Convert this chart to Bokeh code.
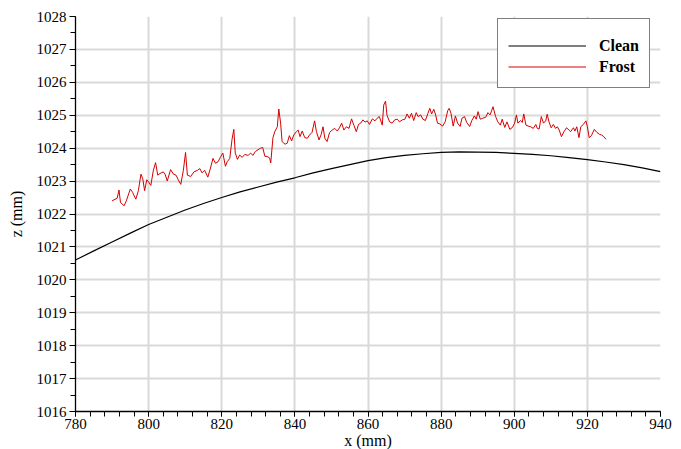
from bokeh.plotting import figure
from bokeh.models import SingleIntervalTicker, Range1d, Legend, LegendItem
from bokeh.embed import file_html
from bokeh.resources import INLINE

# Clean surface profile (x in mm, z in mm)
clean_x = [780, 785, 790, 795, 800, 805, 810, 815, 820, 825, 830, 835, 840, 845, 850, 855, 860,
           865, 870, 875, 880, 885, 890, 895, 900, 905, 910, 915, 920, 925, 930, 935, 940]
clean_z = [1020.6, 1020.88, 1021.15, 1021.42, 1021.68, 1021.9, 1022.12, 1022.32, 1022.5, 1022.67,
           1022.82, 1022.97, 1023.1, 1023.25, 1023.38, 1023.5, 1023.62, 1023.71, 1023.78, 1023.83,
           1023.87, 1023.89, 1023.88, 1023.87, 1023.84, 1023.81, 1023.77, 1023.71, 1023.65, 1023.58,
           1023.5, 1023.4, 1023.29]

# Frost surface profile
frost_x = [790.0, 791.4, 791.9, 792.3, 793.3, 793.9, 795.0, 795.6, 796.5, 797.2, 797.9, 798.4,
           798.9, 799.5, 800.0, 800.6, 801.3, 801.9, 802.5, 803.1, 804.0, 804.5, 805.1, 806.0,
           806.8, 807.5, 808.1, 808.8, 809.5, 810.1, 810.6, 811.5, 812.4, 813.4, 814.0, 814.6,
           815.3, 816.2, 817.0, 817.6, 818.3, 819.0, 819.7, 820.3, 821.0, 821.5, 822.2, 822.8,
           823.3, 823.7, 824.3, 824.9, 825.6, 826.3,
           827.2, 827.9, 828.5, 829.2, 829.9, 830.6, 831.2, 831.8, 832.4, 833.1, 833.4, 834.0,
           834.5, 835.2, 835.6, 836.1, 836.5, 837.3, 837.9, 838.5, 839.1, 839.7, 840.4, 840.9,
           841.4, 842.0, 842.7, 843.4, 844.0, 844.7, 845.4, 845.9, 846.6, 847.2, 847.7, 848.2,
           848.8, 849.5, 850.2, 850.9, 851.6, 852.2, 852.8, 853.4, 854.1, 854.8, 855.5, 856.2,
           856.8, 857.4, 858.0, 858.6, 859.2, 859.8, 860.4, 861.2, 861.9, 862.5, 863.1, 863.9,
           864.3, 864.8,
           865.2, 865.9, 866.6, 867.3, 868.0, 868.6, 869.4, 870.1, 870.7, 871.3, 871.9, 872.5,
           873.2, 873.7, 874.4, 875.0, 875.7, 876.4, 876.9, 877.4, 878.0, 878.5, 879.0, 879.6,
           880.4, 881.1, 881.8, 882.2, 882.7, 883.3, 883.9, 884.5, 885.2, 885.7, 886.4, 887.0,
           887.8, 888.4, 889.1, 889.6, 890.1, 890.7, 891.4, 892.2, 892.8, 893.4, 894.2, 894.9,
           895.5, 896.2, 896.7, 897.4, 898.0, 898.8, 899.5, 900.1, 900.6, 901.0, 901.7, 902.2,
           902.6, 903.2, 903.8,
           904.5, 905.2, 905.9, 906.3, 906.8, 907.4, 908.0, 908.6, 909.0, 909.5, 910.1, 910.7,
           911.3, 911.8, 912.3, 912.9, 913.6, 914.3, 915.0, 915.4, 916.2, 916.6, 917.1, 917.7,
           918.2, 918.9, 919.6, 920.0, 920.5, 921.1, 921.9, 922.6, 923.3, 923.9, 924.5, 925.1]
frost_z = [1022.40, 1022.48, 1022.73, 1022.35, 1022.25, 1022.40, 1022.76, 1022.66, 1022.45, 1022.71,
           1023.21, 1023.07, 1022.71, 1023.04, 1022.97, 1022.87, 1023.33, 1023.56, 1023.18, 1023.23,
           1023.28, 1023.21, 1023.00, 1023.35, 1023.21, 1023.18, 1023.04, 1022.90, 1023.33, 1023.87,
           1023.18, 1023.14, 1023.28, 1023.33, 1023.38, 1023.25, 1023.33, 1023.12, 1023.43, 1023.69,
           1023.54, 1023.59, 1023.74, 1023.85, 1023.45, 1023.59, 1023.69, 1024.26, 1024.57, 1023.85,
           1023.66, 1023.79, 1023.72, 1023.81,
           1023.78, 1023.85, 1023.78, 1023.90, 1023.95, 1024.00, 1024.02, 1023.75, 1023.75, 1023.70,
           1023.55, 1024.32, 1024.50, 1024.65, 1025.19, 1024.76, 1024.20, 1024.12, 1024.15, 1024.38,
           1024.22, 1024.40, 1024.50, 1024.55, 1024.35, 1024.52, 1024.32, 1024.30, 1024.40, 1024.48,
           1024.83, 1024.50, 1024.25, 1024.42, 1024.65, 1024.30, 1024.20, 1024.48, 1024.55, 1024.60,
           1024.52, 1024.62, 1024.76, 1024.55, 1024.65, 1024.60, 1024.89, 1024.68, 1024.50, 1024.72,
           1024.76, 1024.86, 1024.79, 1024.83, 1024.72, 1024.89, 1024.83, 1024.91, 1024.96, 1024.70,
           1025.31, 1025.43,
           1025.00, 1024.80, 1024.76, 1024.86, 1024.88, 1024.80, 1024.86, 1024.88, 1025.04, 1024.91,
           1025.06, 1024.84, 1025.08, 1024.96, 1025.01, 1024.88, 1024.84, 1025.06, 1025.21, 1025.04,
           1025.18, 1025.01, 1024.76, 1024.74, 1024.67, 1024.80, 1025.14, 1025.21, 1025.06, 1024.67,
           1024.98, 1024.76, 1024.66, 1024.91, 1024.96, 1024.78, 1024.66, 1024.84, 1024.98, 1024.88,
           1025.11, 1024.88, 1024.91, 1024.94, 1025.08, 1025.01, 1025.26, 1024.96, 1024.80, 1024.70,
           1024.88, 1024.63, 1024.80, 1024.57, 1024.63, 1024.76, 1025.01, 1024.76, 1024.84, 1024.78,
           1025.04, 1024.70, 1024.67,
           1024.65, 1024.60, 1024.72, 1024.60, 1024.58, 1024.96, 1024.76, 1024.83, 1025.03, 1024.80,
           1024.62, 1024.72, 1024.60, 1024.65, 1024.55, 1024.35, 1024.50, 1024.62, 1024.55, 1024.50,
           1024.62, 1024.52, 1024.65, 1024.32, 1024.65, 1024.72, 1024.83, 1024.65, 1024.32, 1024.38,
           1024.57, 1024.48, 1024.42, 1024.40, 1024.35, 1024.27]

x_range = (780, 940)
y_range = (1016, 1028)

FONT = "Liberation Serif"

p = figure(output_backend="svg", toolbar_location=None,
           frame_width=585, frame_height=395,
           x_range=Range1d(*x_range), y_range=Range1d(*y_range),
           min_border_left=75, min_border_top=16, min_border_right=13, min_border_bottom=0,
           background_fill_color="white", border_fill_color="white")
p.outline_line_color = None

p.xaxis.ticker = SingleIntervalTicker(interval=20, num_minor_ticks=5)
p.yaxis.ticker = SingleIntervalTicker(interval=1, num_minor_ticks=2)

for ax in (p.xaxis[0], p.yaxis[0]):
    ax.axis_line_color = "black"
    ax.axis_line_width = 1.3
    ax.major_tick_line_color = "black"
    ax.minor_tick_line_color = "black"
    ax.major_tick_in = 0
    ax.minor_tick_in = 0
    ax.major_tick_out = 6
    ax.minor_tick_out = 5
    ax.major_label_text_font = FONT
    ax.major_label_text_font_size = "15px"
    ax.major_label_text_color = "black"
    ax.axis_label_text_font = FONT
    ax.axis_label_text_font_size = "16px"
    ax.axis_label_text_font_style = "normal"
    ax.axis_label_text_color = "black"

p.xaxis.major_tick_out = 5
p.xaxis.minor_tick_out = 5

p.xaxis.axis_label = "x (mm)"
p.yaxis.axis_label = "z (mm)"
p.xaxis.major_label_standoff = 2
p.xaxis.axis_label_standoff = 0
p.yaxis.major_label_standoff = 3
p.yaxis.axis_label_standoff = 9

p.xgrid.grid_line_color = "#d9d9d9"
p.ygrid.grid_line_color = "#d9d9d9"
p.xgrid.grid_line_width = 2
p.ygrid.grid_line_width = 2

r_clean = p.line(clean_x, clean_z, line_color="black", line_width=1.2)
r_frost = p.line(frost_x, frost_z, line_color="#d40000", line_width=1)

legend = Legend(items=[LegendItem(label="Clean", renderers=[r_clean]),
                       LegendItem(label="Frost", renderers=[r_frost])],
                location=(422, 323))
legend.title = " "
legend.title_text_font_size = "6px"
legend.title_standoff = 0
legend.padding = 10
legend.spacing = 0
legend.margin = 0
legend.glyph_width = 78
legend.glyph_height = 21
legend.label_height = 21
legend.label_standoff = 13
legend.label_text_font = FONT
legend.label_text_font_size = "16px"
legend.label_text_font_style = "bold"
legend.label_text_color = "black"
legend.border_line_color = "black"
legend.border_line_width = 1.3
legend.background_fill_color = "white"
legend.background_fill_alpha = 1
p.add_layout(legend, "center")

open("out.html", "w").write(file_html(p, INLINE))
